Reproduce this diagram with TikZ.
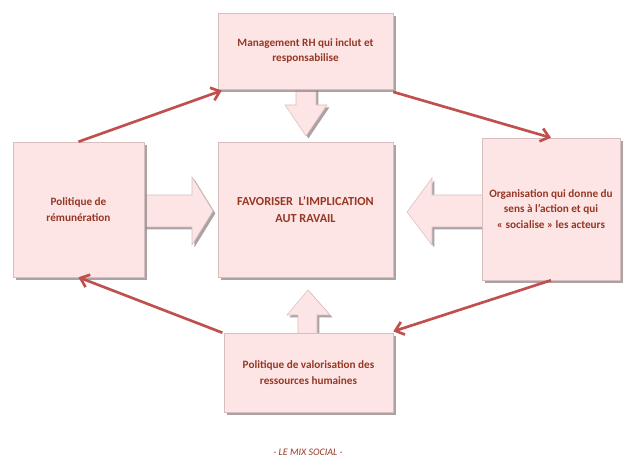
\documentclass[tikz,border=0pt]{standalone}
\usepackage{fontspec}
\setmainfont{Carlito}
\usetikzlibrary{arrows.meta,shadows}
\definecolor{boxfill}{RGB}{253,229,229}
\definecolor{boxline}{RGB}{215,190,190}
\definecolor{txtred}{RGB}{150,55,35}
\definecolor{linkred}{RGB}{192,80,77}
\definecolor{shadowgray}{RGB}{150,140,140}
\tikzset{
  boxnode/.style={draw=boxline, fill=boxfill, line width=0.4pt, align=center,
    text=txtred, font=\fontsize{8.4}{11.5}\selectfont\bfseries, inner sep=2pt,
    drop shadow={shadow xshift=2.2pt, shadow yshift=-2.2pt, fill=shadowgray, opacity=0.8}},
  blockarrow/.style={draw=boxline, fill=boxfill, line width=0.4pt,
    drop shadow={shadow xshift=1.8pt, shadow yshift=-1.8pt, fill=shadowgray, opacity=0.8}},
  link/.style={draw=linkred, line width=2pt, -{Straight Barb[length=6pt,width=10pt,line width=2pt]}}
}
\begin{document}
\begin{tikzpicture}[x=0.75pt,y=-0.75pt]
\useasboundingbox (0,0) rectangle (625,459);
% block arrows (drawn first so boxes overlap the ends)
\path[blockarrow] (296,86) -- (296,105) -- (285,105) -- (306,136) -- (327,105) -- (316,105) -- (316,86) -- cycle;
\path[blockarrow] (140,195) -- (192,195) -- (192,177) -- (213,211) -- (192,245) -- (192,227) -- (140,227) -- cycle;
\path[blockarrow] (486,195) -- (432,195) -- (432,178) -- (407,212) -- (432,245) -- (432,227) -- (486,227) -- cycle;
\path[blockarrow] (298,336) -- (298,315) -- (287,315) -- (308,290) -- (330,315) -- (317,315) -- (317,336) -- cycle;
% boxes
\node[boxnode, minimum width=131.25pt, minimum height=57pt] (top) at (305.5,51) {Management RH qui inclut et\\responsabilise};
\node[boxnode, minimum width=98.25pt, minimum height=101.25pt] (left) at (78.5,209.5) {Politique de\\rémunération};
\node[boxnode, minimum width=131.25pt, minimum height=101.25pt, font=\fontsize{9.2}{13}\selectfont\bfseries] (center) at (305.5,209.5) {FAVORISER\ \ L’IMPLICATION\\AUT RAVAIL};
\node[boxnode, minimum width=103.5pt, minimum height=106.5pt] (right) at (551,209) {Organisation qui donne du\\sens à l’action et qui\\« socialise » les acteurs};
\node[boxnode, minimum width=126.75pt, minimum height=59.25pt] (bottom) at (308.5,372.5) {Politique de valorisation des\\ressources humaines};
% cycle connectors
\draw[link] (left.north) -- ([xshift=3pt,yshift=-1pt]top.south west);
\draw[link] ([yshift=-2pt]top.south east) -- (right.north);
\draw[link] (right.south) -- ([yshift=1pt]bottom.north east);
\draw[link] ([xshift=-1pt]bottom.north west) -- (left.south);
% caption
\node[text=txtred, font=\fontsize{7.5}{9}\selectfont\itshape] (caption) at (308,452) {- LE MIX SOCIAL -};
\end{tikzpicture}
\end{document}
